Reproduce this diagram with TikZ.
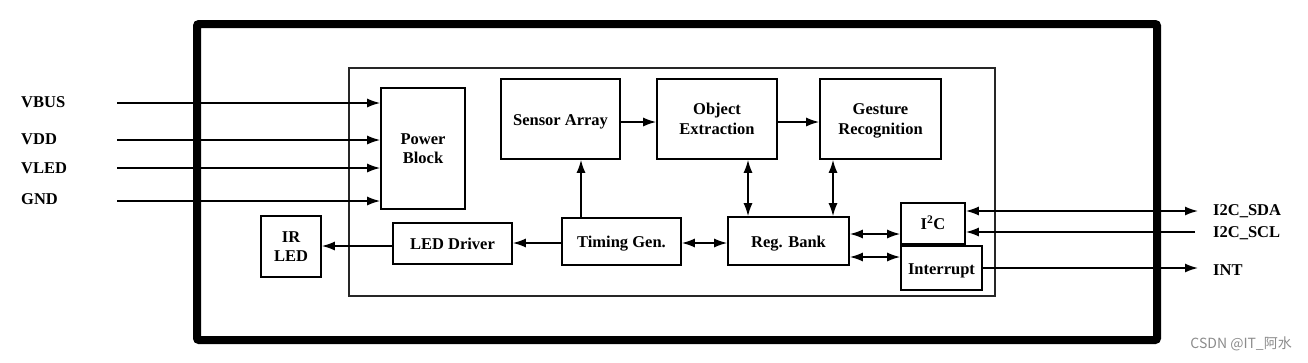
\documentclass[tikz,border=0pt]{standalone}
\usepackage{fontspec}
\setmainfont{Liberation Serif}
\newfontfamily\cjk{Noto Sans CJK SC}
\usetikzlibrary{arrows.meta}
\begin{document}
\begin{tikzpicture}[x=1pt,y=-1pt,line cap=butt,line join=miter,>={Latex[length=13pt,width=9pt]},
  blk/.style={draw,line width=1.6pt,inner sep=2pt,align=center,font=\bfseries\fontsize{16.5}{19.5}\selectfont},
  one/.style={blk,text height=12pt,text depth=0pt},
  two/.style={blk,text depth=0pt},
  pin/.style={anchor=west,inner sep=0pt,font=\bfseries\fontsize{16.5}{19.5}\selectfont},
  arr/.style={line width=1.6pt,->},
  dbl/.style={line width=1.6pt,<->}]
  \useasboundingbox (0,0) rectangle (1308,362);
  \fill[white] (0,0) rectangle (1308,362);
  \draw[line width=8pt,rounded corners=2pt] (197,24) rectangle (1157,340);
  \draw[line width=1.4pt,black!85] (349,68) rectangle (995,296);
  % blocks
  \node[two,minimum width=84pt,minimum height=121pt] (pb) at (423,148.5) {Power\\Block};
  \node[two,minimum width=60pt,minimum height=61pt] (irled) at (291,246.5) {IR\\LED};
  \node[one,minimum width=119pt,minimum height=41pt] (led) at (452.5,243.5) {LED Driver};
  \node[one,minimum width=119pt,minimum height=80pt] (sa) at (560.5,119) {Sensor Array};
  \node[two,minimum width=120pt,minimum height=80pt] (oe) at (717,119) {Object\\Extraction};
  \node[two,minimum width=121pt,minimum height=80pt] (gr) at (880.5,119) {Gesture\\Recognition};
  \node[one,minimum width=119pt,minimum height=47pt] (tg) at (621.5,241.5) {Timing Gen.};
  \node[one,minimum width=121pt,minimum height=48pt] (rb) at (788.5,241) {Reg. Bank};
  \node[one,minimum width=64pt,minimum height=41pt] (i2c) at (933,223.5) {I\textsuperscript{2}C};
  \node[one,minimum width=81pt,minimum height=44pt] (intr) at (941.5,268) {Interrupt};
  % pins
  \node[pin] (vbus) at (21,102) {VBUS};
  \node[pin] (vdd) at (21,139) {VDD};
  \node[pin] (vled) at (21,168) {VLED};
  \node[pin] (gnd) at (21,199) {GND};
  \node[pin] (sda) at (1213,211) {I2C\_SDA};
  \node[pin] (scl) at (1213,233) {I2C\_SCL};
  \node[pin] (int) at (1213,270) {INT};
  \coordinate (vbusin) at (117,103);
  \coordinate (vddin) at (117,140);
  \coordinate (vledin) at (117,168);
  \coordinate (gndin) at (117,201);
  \coordinate (sdaend) at (1198,211);
  \coordinate (sclin) at (1195,232);
  \coordinate (intend) at (1198,268);
  \foreach \c in {vbusin,vddin,vledin,gndin}
    \draw[arr] (\c) -- (\c -| pb.west);
  \draw[dbl] (sdaend -| i2c.east) -- (sdaend);
  \draw[arr] (sclin) -- (sclin -| i2c.east);
  \draw[arr] (intend -| intr.east) -- (intend);
  % internal connections
  \draw[arr] ([yshift=-3pt]sa.east) -- ([yshift=-3pt]sa.east -| oe.west);
  \draw[arr] ([yshift=-3pt]oe.east) -- ([yshift=-3pt]oe.east -| gr.west);
  \draw[arr] ([xshift=-40.5pt]tg.north) -- ([xshift=-40.5pt]tg.north |- sa.south);
  \draw[dbl] ([xshift=31pt]oe.south) -- ([xshift=31pt]oe.south |- rb.north);
  \draw[dbl] ([xshift=-47.5pt]gr.south) -- ([xshift=-47.5pt]gr.south |- rb.north);
  \draw[arr] ([yshift=-1.5pt]tg.west) -- ([yshift=-1.5pt]tg.west -| led.east);
  \draw[arr] ([yshift=-2.5pt]led.west) -- ([yshift=-2.5pt]led.west -| irled.east);
  \draw[dbl] ([yshift=-1.5pt]tg.east) -- ([yshift=-1.5pt]tg.east -| rb.west);
  \draw[dbl] ([yshift=7pt]rb.east) -- ([yshift=7pt]rb.east -| i2c.west);
  \draw[dbl] ([yshift=-16pt]rb.east) -- ([yshift=-16pt]rb.east -| intr.west);
  \node[anchor=east,inner sep=0pt,text=black!45,font=\cjk\fontsize{14}{14}\selectfont] (wm) at (1292,344) {CSDN @IT\_阿水};
\end{tikzpicture}
\end{document}
